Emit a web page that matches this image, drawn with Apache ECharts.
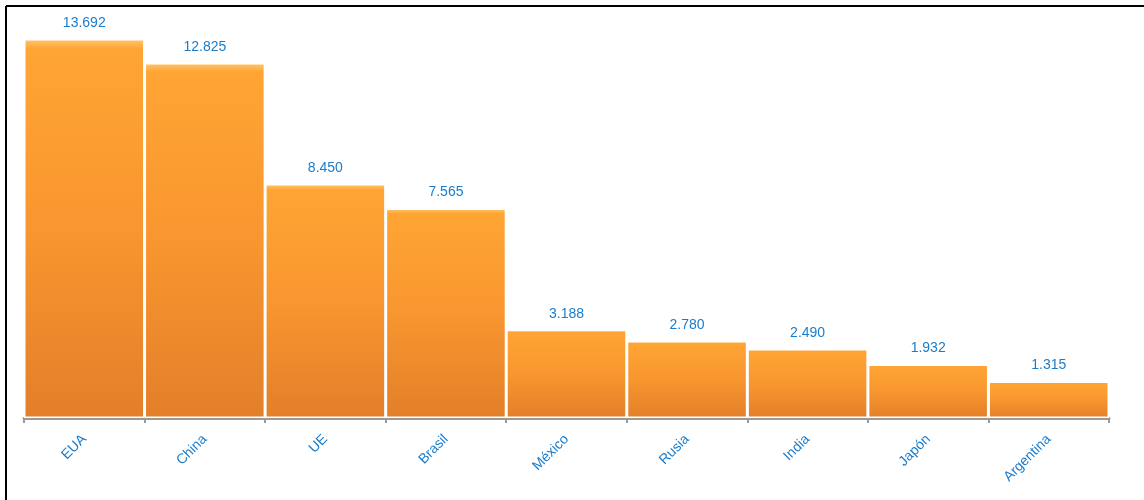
<!DOCTYPE html>
<html>
<head>
<meta charset="utf-8">
<script src="https://cdn.jsdelivr.net/npm/echarts@6/dist/echarts.min.js"></script>
<style>
html,body{margin:0;padding:0;background:#fff;}
#chart{width:1144px;height:500px;}
</style>
</head>
<body>
<div id="chart"></div>
<script>
const categories = ['EUA', 'China', 'UE', 'Brasil', 'México', 'Rusia', 'India', 'Japón', 'Argentina'];
const values = [13.692, 12.825, 8.450, 7.565, 3.188, 2.780, 2.490, 1.932, 1.315];

function fmt(v) { return v.toFixed(3); }

const chart = echarts.init(document.getElementById('chart'));
chart.setOption({
  animation: false,
  backgroundColor: '#fff',
  grid: { left: 24, right: 35, top: 39, bottom: 82, containLabel: false },
  xAxis: {
    type: 'category',
    data: categories,
    boundaryGap: true,
    axisLine: { show: true, lineStyle: { color: '#9a9a9a', width: 3 } },
    axisTick: { show: true, alignWithLabel: false, length: 5, lineStyle: { color: '#9a9a9a', width: 2 } },
    axisLabel: {
      rotate: 45, color: '#1a7ccc', fontFamily: 'Liberation Sans, Arial, sans-serif',
      fontSize: 14, margin: 19
    }
  },
  yAxis: {
    type: 'value', min: 0, max: 'dataMax',
    show: false, splitLine: { show: false }
  },
  graphic: [
    { type: 'line', shape: { x1: 6, y1: 6, x2: 1144, y2: 6 }, style: { stroke: '#000', lineWidth: 2 } },
    { type: 'line', shape: { x1: 6, y1: 6, x2: 6, y2: 500 }, style: { stroke: '#000', lineWidth: 2 } }
  ],
  series: [{
    type: 'bar',
    data: values,
    barCategoryGap: '0%',
    itemStyle: {
      color: {
        type: 'linear', x: 0, y: 0, x2: 0, y2: 1,
        colorStops: [
          { offset: 0, color: '#ffc870' },
          { offset: 0.025, color: '#ffa534' },
          { offset: 0.5, color: '#f8962f' },
          { offset: 1, color: '#e37f29' }
        ]
      },
      borderColor: '#ffffff',
      borderWidth: 1.5
    },
    label: {
      show: true, position: 'top', distance: 9,
      color: '#1a7ccc', fontSize: 14, fontFamily: 'Liberation Sans, Arial, sans-serif',
      formatter: p => fmt(p.value)
    }
  }]
});
</script>
</body>
</html>
